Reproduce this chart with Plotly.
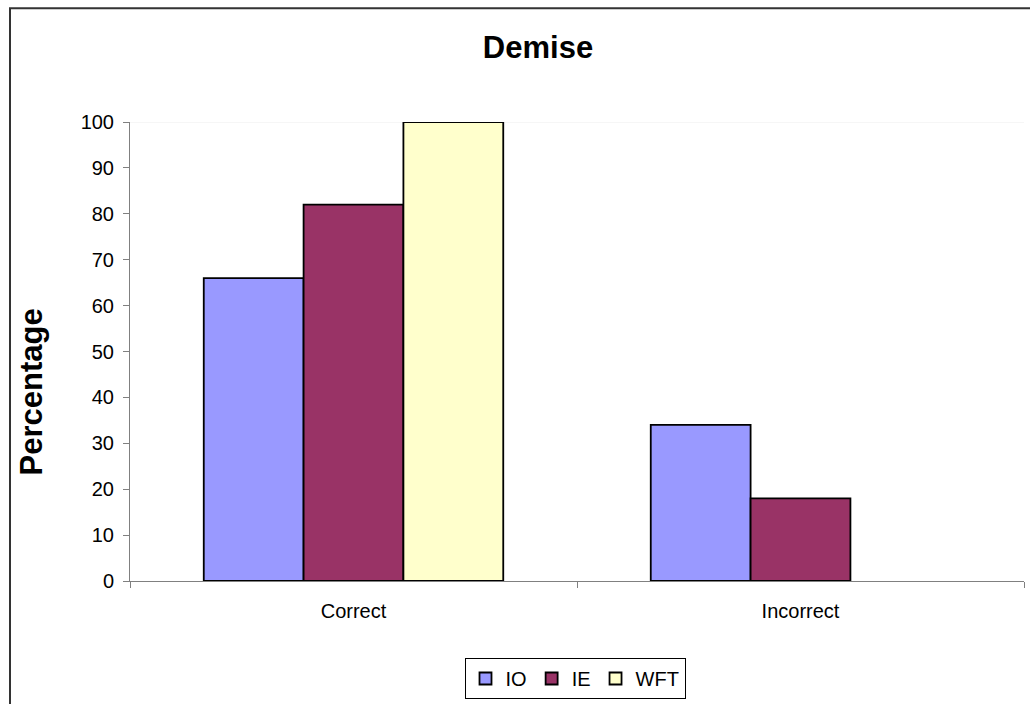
import plotly.graph_objects as go

categories = ["Correct", "Incorrect"]
series_names = ["IO", "IE", "WFT"]
io_values = [66, 34]
ie_values = [82, 18]
wft_values = [100, 0]
y_ticks = [0, 10, 20, 30, 40, 50, 60, 70, 80, 90, 100]

colors = {"IO": "#9999FF", "IE": "#993366", "WFT": "#FFFFCC"}
values = {"IO": io_values, "IE": ie_values, "WFT": wft_values}

W, H = 1030, 704
L, R, T, B = 130, 6, 122, 122
pw, ph = W - L - R, H - T - B

def px_x(x):
    return (x - L) / pw

def px_y(y):
    return (H - B - y) / ph

fig = go.Figure()
for name in series_names:
    vals = values[name]
    fig.add_trace(go.Bar(
        x=categories, y=vals, name=name,
        marker=dict(color=colors[name],
                    line=dict(color="#000000",
                              width=[1.8 if v else 0 for v in vals])),
    ))

fig.update_layout(
    width=W, height=H,
    margin=dict(l=L, r=R, t=T, b=B),
    paper_bgcolor="white", plot_bgcolor="white",
    barmode="group", bargap=0.33, bargroupgap=0,
    font=dict(family="Arial, Liberation Sans, sans-serif", size=20, color="#000000"),
    title=dict(text="<b>Demise</b>", xref="container", x=538 / W, xanchor="center",
               y=1 - 47 / H, yanchor="middle", font=dict(size=31)),
    showlegend=True,
    legend=dict(orientation="h", x=px_x(575), xanchor="center",
                y=px_y(658), yanchor="top",
                bordercolor="#000000", borderwidth=1,
                font=dict(size=20), itemwidth=30, traceorder="normal"),
    xaxis=dict(showline=True, linecolor="#808080", linewidth=1,
               ticks="outside", ticklen=6, tickcolor="#808080",
               tickson="boundaries", showgrid=False,
               ticklabelstandoff=12,
               tickfont=dict(size=20)),
    yaxis=dict(range=[0, 100], tickvals=y_ticks, showline=True,
               linecolor="#808080", linewidth=1, ticks="outside",
               ticklen=6, tickcolor="#808080", showgrid=False,
               zeroline=False, ticklabelstandoff=5,
               tickfont=dict(size=20)),
    shapes=[
        # chart area frame
        dict(type="rect", xref="paper", yref="paper",
             x0=px_x(10), x1=px_x(1040), y0=px_y(720), y1=px_y(8),
             line=dict(color="#333333", width=2), fillcolor="rgba(0,0,0,0)",
             layer="below"),
        # faint top edge of plot area
        dict(type="line", xref="paper", yref="y", x0=0, x1=1, y0=100, y1=100,
             line=dict(color="#eeeeee", width=1), layer="below"),
    ],
    annotations=[
        dict(text="<b>Percentage</b>", xref="paper", yref="paper",
             x=px_x(31), y=px_y(393), xanchor="center", yanchor="middle",
             textangle=-90, showarrow=False, font=dict(size=31)),
    ],
)

fig.write_html("out.html")
